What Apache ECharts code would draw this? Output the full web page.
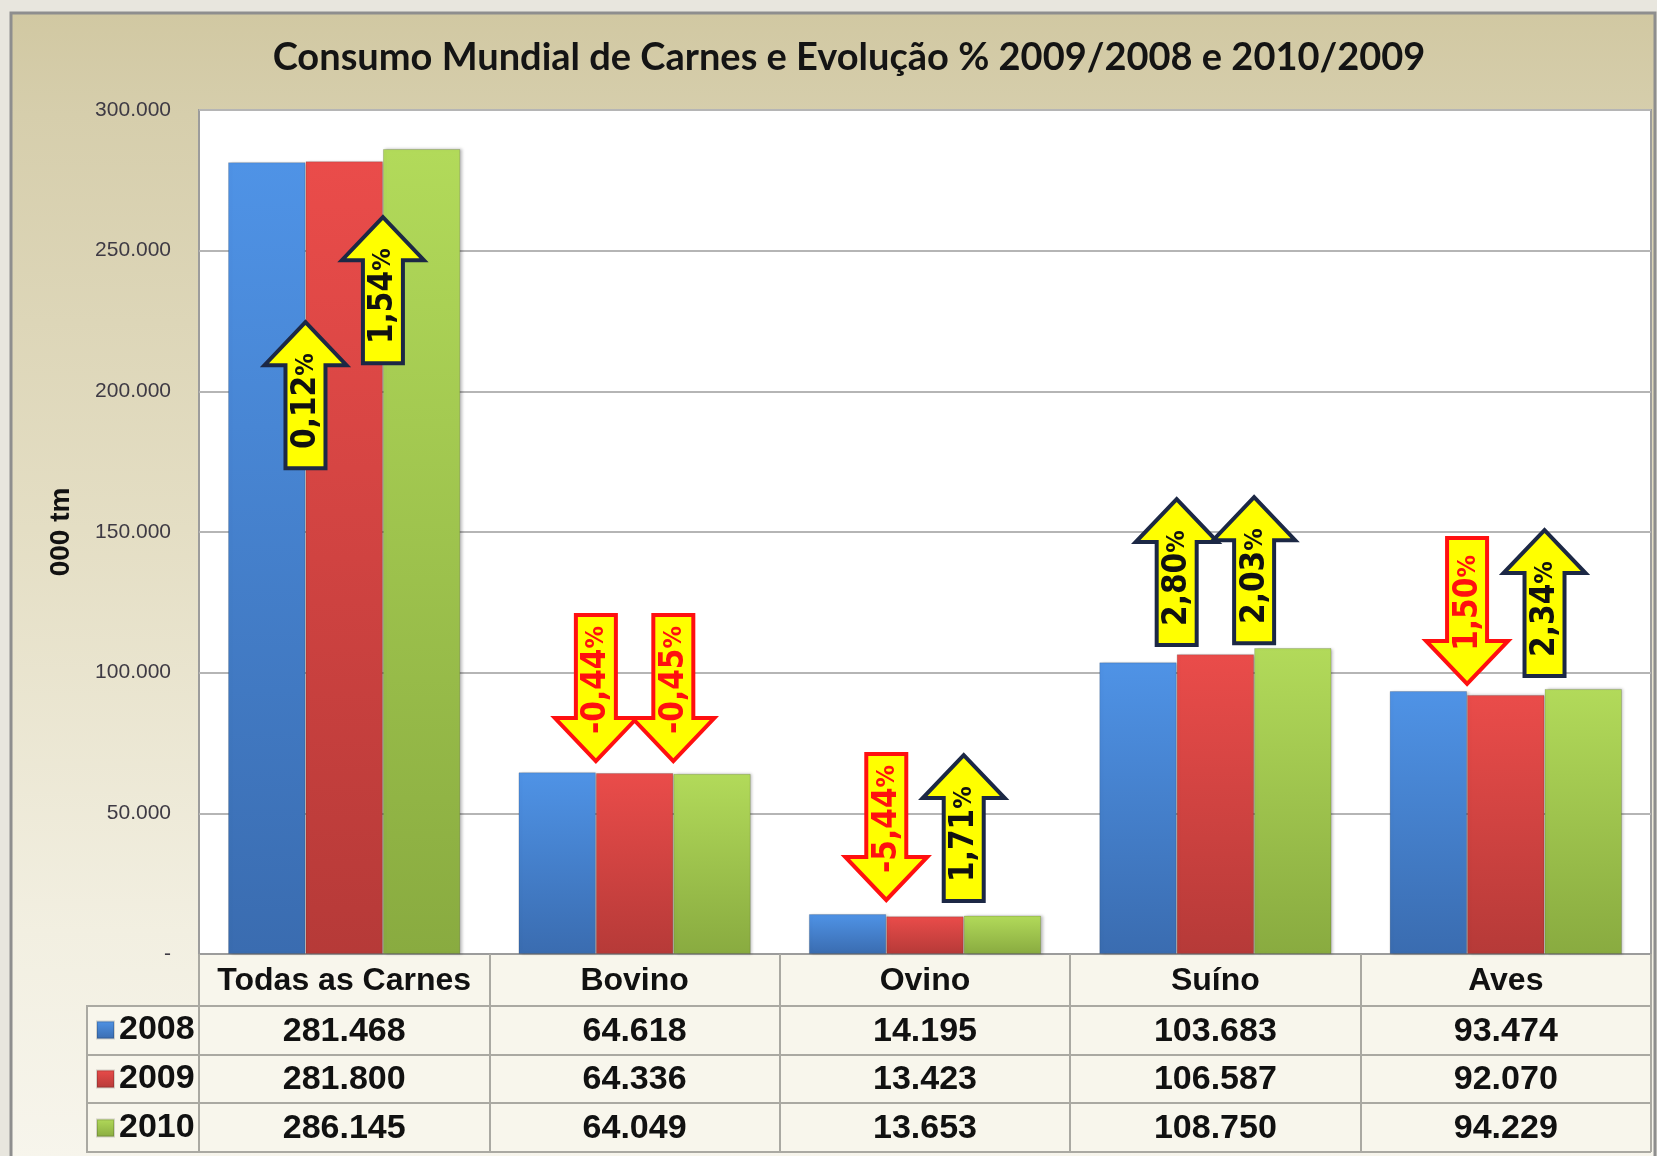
<!DOCTYPE html>
<html>
<head>
<meta charset="utf-8">
<script src="https://cdn.jsdelivr.net/npm/echarts@6/dist/echarts.min.js"></script>
<style>
  html, body { margin: 0; padding: 0; background: #e8e6de; }
  #main { width: 1657px; height: 1156px; }
</style>
</head>
<body>
<div id="main"></div>
<script>
// dados
const categories = ['Todas as Carnes', 'Bovino', 'Ovino', 'Suíno', 'Aves'];
const years = ['2008', '2009', '2010'];
const values2008 = [281468, 64618, 14195, 103683, 93474];
const values2009 = [281800, 64336, 13423, 106587, 92070];
const values2010 = [286145, 64049, 13653, 108750, 94229];

// eixo y
const yMin = 0;
const yMax = 300000;
const yStep = 50000;

// evolução % (setas): rótulo, sentido, valor onde a seta encosta
const evolLabels0908 = ['0,12%', '-0,44%', '-5,44%', '2,80%', '1,50%'];
const evolUp0908 = [true, false, false, true, false];
const evolAnchor0908 = [172700, 68600, 19200, 109800, 96000];
const evolLabels1009 = ['1,54%', '-0,45%', '1,71%', '2,03%', '2,34%'];
const evolUp1009 = [true, false, true, true, true];
const evolAnchor1009 = [210000, 68600, 18800, 110500, 98800];

// layout
const W = 1657, H = 1156;
const GRID_L = 199, GRID_R = 1651, GRID_T = 110, GRID_B = 954;
const ROW_Y = [1006, 1055, 1103, 1152];
const LEG_L = 87;
const BAR_CAT_GAP = 0.2;

const fmtThousands = (v) => String(v).replace(/\B(?=(\d{3})+(?!\d))/g, '.');

const barColors = [
  ['#4f93e6', '#3a6cb0'],
  ['#ea4c4a', '#b63a38'],
  ['#b2da5a', '#89ab40']
];
const grad = (c) => new echarts.graphic.LinearGradient(0, 0, 0, 1, [
  { offset: 0, color: c[0] }, { offset: 1, color: c[1] }
]);

// monta a lista de setas
const arrows = [];
categories.forEach((c, i) => {
  arrows.push({ value: [i, 0, evolAnchor0908[i]], label: evolLabels0908[i], up: evolUp0908[i] });
  arrows.push({ value: [i, 1, evolAnchor1009[i]], label: evolLabels1009[i], up: evolUp1009[i] });
});

function renderArrow(params, api) {
  const a = arrows[params.dataIndex];
  const catW = api.size([1, 0])[0];
  const bw = catW * (1 - BAR_CAT_GAP) / years.length;
  const p = api.coord([api.value(0), api.value(2)]);
  const x = p[0] - bw * years.length / 2 + bw * (api.value(1) + 1);
  const y = p[1];
  const L = 146, hl = 43, s = 20, h = 41;
  let pts, cy;
  if (a.up) {
    pts = [[x - s, y], [x - s, y - L + hl], [x - h, y - L + hl], [x, y - L],
           [x + h, y - L + hl], [x + s, y - L + hl], [x + s, y]];
    cy = y - L / 2 + 6;
  } else {
    pts = [[x - s, y - L], [x + s, y - L], [x + s, y - hl], [x + h, y - hl],
           [x, y], [x - h, y - hl], [x - s, y - hl]];
    cy = y - L / 2 - 8;
  }
  const stroke = a.up ? '#1c2845' : '#ff1010';
  const txtColor = a.up ? '#111111' : '#ff1010';
  const num = a.label.replace('%', '');
  return {
    type: 'group',
    children: [
      {
        type: 'polygon',
        shape: { points: pts },
        style: { fill: '#ffff00', stroke: stroke, lineWidth: 4, lineJoin: 'miter' }
      },
      {
        type: 'text',
        x: x + 1,
        y: cy,
        rotation: Math.PI / 2,
        style: {
          text: '{n|' + num + '}{p|%}',
          align: 'center',
          verticalAlign: 'middle',
          rich: {
            n: { fontSize: 33, fontWeight: 'bold', fill: txtColor,
                 fontFamily: '"Liberation Sans Narrow", "DejaVu Sans Condensed", "Liberation Sans", Arial' },
            p: { fontSize: 25, fontWeight: 'bold', fill: txtColor,
                 fontFamily: '"Liberation Sans Narrow", "DejaVu Sans Condensed", "Liberation Sans", Arial' }
          }
        }
      }
    ]
  };
}

const chart = echarts.init(document.getElementById('main'), null, { renderer: 'canvas' });

const series = [values2008, values2009, values2010].map((vals, k) => ({
  name: years[k],
  type: 'bar',
  data: vals,
  barGap: '0%',
  barCategoryGap: (BAR_CAT_GAP * 100) + '%',
  itemStyle: {
    color: grad(barColors[k]),
    borderColor: 'rgba(0,0,0,0.15)',
    borderWidth: 1,
    shadowColor: 'rgba(0,0,0,0.25)',
    shadowBlur: 3,
    shadowOffsetX: 2
  },
  z: 3
}));

series.push({
  type: 'custom',
  name: 'evol',
  renderItem: renderArrow,
  data: arrows.map((a) => a.value),
  encode: { x: 0, y: 2 },
  clip: false,
  silent: true,
  z: 10
});

const option = {
  backgroundColor: '#e8e6de',
  animation: false,
  title: {
    text: 'Consumo Mundial de Carnes e Evolução % 2009/2008 e 2010/2009',
    left: 844,
    top: 34,
    textAlign: 'center',
    textStyle: { fontFamily: 'Lato, "Open Sans", sans-serif', fontWeight: 'bold', fontSize: 38, color: '#141414' }
  },
  legend: {
    data: years,
    orient: 'vertical',
    left: 96,
    top: 1013,
    padding: 0,
    itemWidth: 17,
    itemHeight: 17,
    itemGap: 15,
    icon: 'rect',
    textStyle: { fontFamily: '"Liberation Sans", Arial', fontWeight: 'bold', fontSize: 34, lineHeight: 34, color: '#111' }
  },
  grid: {
    left: GRID_L, right: W - GRID_R, top: GRID_T, bottom: H - GRID_B,
    show: true, backgroundColor: '#ffffff', borderColor: '#9c9c9c', borderWidth: 2
  },
  xAxis: {
    type: 'category',
    data: categories,
    boundaryGap: true,
    axisLine: { lineStyle: { color: '#9c9c9c', width: 2 } },
    axisTick: { show: true, length: ROW_Y[3] - GRID_B, lineStyle: { color: '#aaa9a2', width: 2 } },
    axisLabel: {
      margin: 2,
      interval: 0,
      formatter: (v, i) => '{h|' + v + '}\n{n|' + fmtThousands(values2008[i]) + '}\n{n|' +
        fmtThousands(values2009[i]) + '}\n{n|' + fmtThousands(values2010[i]) + '}',
      rich: {
        h: { fontFamily: '"Liberation Sans", Arial', fontWeight: 'bold', fontSize: 32, lineHeight: 51, color: '#111' },
        n: { fontFamily: '"Liberation Sans", Arial', fontWeight: 'bold', fontSize: 34, lineHeight: 48.7, color: '#111' }
      }
    }
  },
  yAxis: {
    type: 'value',
    min: yMin,
    max: yMax,
    interval: yStep,
    name: '000 tm',
    nameLocation: 'middle',
    nameRotate: 90,
    nameGap: 124,
    nameTextStyle: { fontFamily: '"Liberation Sans", Arial', fontWeight: 'bold', fontSize: 28, color: '#111' },
    axisLine: { show: false },
    axisTick: { show: false },
    axisLabel: {
      margin: 28,
      fontFamily: '"Liberation Sans", Arial',
      fontSize: 21,
      color: '#3e3a44',
      formatter: (v) => (v === 0 ? '-' : fmtThousands(v))
    },
    splitLine: { lineStyle: { color: '#b5b5b5', width: 2 } }
  },
  graphic: [
    // moldura
    {
      type: 'rect', z: -10, silent: true,
      shape: { x: 11, y: 13, width: W - 13, height: H - 10 },
      style: {
        fill: new echarts.graphic.LinearGradient(0, 0, 0, 1, [
          { offset: 0, color: '#d1c8a2' },
          { offset: 0.09, color: '#d6ceac' },
          { offset: 0.45, color: '#e4dec4' },
          { offset: 0.8, color: '#f2efe1' },
          { offset: 1, color: '#f7f5ec' }
        ]),
        stroke: '#8e8e8e', lineWidth: 3
      }
    },
    // fundo da tabela
    {
      type: 'rect', z: -9, silent: true,
      shape: { x: GRID_L, y: GRID_B, width: GRID_R - GRID_L, height: ROW_Y[3] - GRID_B },
      style: { fill: '#f8f6ec' }
    },
    {
      type: 'rect', z: -9, silent: true,
      shape: { x: LEG_L, y: ROW_Y[0], width: GRID_L - LEG_L, height: ROW_Y[3] - ROW_Y[0] },
      style: { fill: '#f8f6ec', stroke: '#aaa9a2', lineWidth: 2 }
    }
  ].concat(ROW_Y.map((y) => ({
    type: 'line', z: 5, silent: true,
    shape: { x1: LEG_L, y1: y, x2: GRID_R, y2: y },
    style: { stroke: '#aaa9a2', lineWidth: 2 }
  }))),
  series: series
};

chart.setOption(option);
</script>
</body>
</html>
